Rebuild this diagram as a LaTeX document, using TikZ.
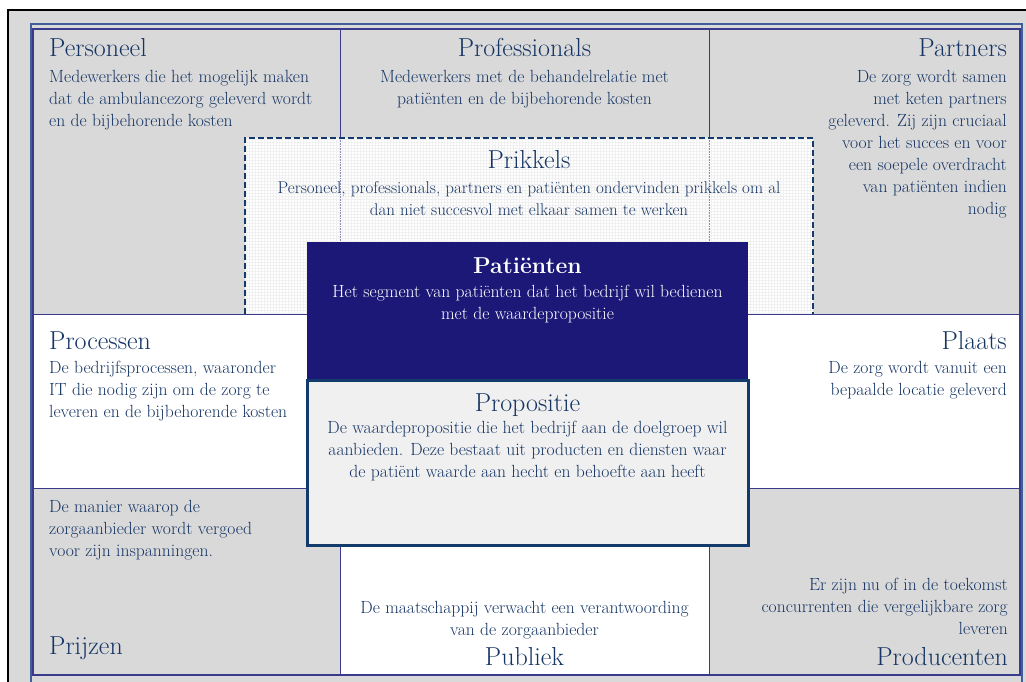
\documentclass[tikz,border=0pt]{standalone}
\usetikzlibrary{patterns}
\definecolor{cellgray}{HTML}{D9D9D9}
\definecolor{txtblue}{HTML}{163564}
\definecolor{navybox}{HTML}{1B1878}
\definecolor{cellline}{HTML}{3A3A8C}
\definecolor{frameblue}{HTML}{3F5E9A}
\definecolor{propline}{HTML}{123A6B}
\definecolor{propfill}{HTML}{F0F0F0}
\tikzset{
  title/.style={font=\fontsize{26}{30}\selectfont, text=txtblue, inner sep=0pt},
  body/.style={font=\fontsize{17.6}{22}\selectfont, text=txtblue, inner sep=0pt},
  grid line/.style={draw=cellline, line width=1pt},
}
\begin{document}
\begin{tikzpicture}[x=1pt,y=-1pt]
  \useasboundingbox (0,0) rectangle (1026,682);
  \clip (0,0) rectangle (1026,682);
  % frames
  \fill[cellgray] (8,10) rectangle (1040,700);
  \draw[line width=2pt] (8,10) rectangle (1040,700);
  \draw[frameblue, line width=2pt] (31,24) rectangle (1022,700);
  % cells
  \fill[cellgray] (33,29) rectangle (1020,314);
  \fill[white] (33,314) rectangle (1020,488);
  \fill[white] (340,488) rectangle (709,675);
  \draw[grid line] (340,29) -- (340,138) (709,29) -- (709,138)
    (340,488) -- (340,675) (709,488) -- (709,675);
  % prikkels
  \fill[white] (245,138) rectangle (813,314);
  \fill[pattern=grid, pattern color=gray!12] (245,138) rectangle (813,314);
  \draw[cellline!60, densely dotted, line width=0.6pt] (340,138) -- (340,314) (709,138) -- (709,314);
  \draw[propline, line width=2pt, dash pattern=on 6pt off 3pt] (245,314) -- (245,138) -- (813,138) -- (813,314);
  \draw[grid line] (33,314) -- (1020,314) (33,488) -- (1020,488);
  \draw[cellline, line width=1.2pt] (33,29) rectangle (1020,675);
  % centre blocks
  \fill[navybox] (307,242) rectangle (748,380);
  \filldraw[fill=propfill, draw=propline, line width=3pt] (307,380) rectangle (748,545);

  \node[title, anchor=base west] (personeel) at (49,57) {Personeel};
  \node[body, anchor=north west, align=left] (personeelTxt) at (49,70)
    {Medewerkers die het mogelijk maken\\dat de ambulancezorg geleverd wordt\\en de bijbehorende kosten};
  \node[title, anchor=base] (professionals) at (524.5,57) {Professionals};
  \node[body, anchor=north, align=center] (professionalsTxt) at (524.5,70)
    {Medewerkers met de behandelrelatie met\\patiënten en de bijbehorende kosten};
  \node[title, anchor=base east] (partners) at (1007,57) {Partners};
  \node[body, anchor=north east, align=right] (partnersTxt) at (1007,70)
    {De zorg wordt samen\\met keten partners\\geleverd. Zij zijn cruciaal\\voor het succes en voor\\een soepele overdracht\\van patiënten indien\\nodig};
  \node[title, anchor=base] (prikkels) at (529,169) {Prikkels};
  \node[body, anchor=north, align=center, font=\fontsize{17}{22}\selectfont] (prikkelsTxt) at (529,181)
    {Personeel, professionals, partners en patiënten ondervinden prikkels om al\\dan niet succesvol met elkaar samen te werken};
  \node[title, anchor=base, text=white, font=\fontsize{23}{27}\selectfont\bfseries] (patienten) at (527.5,273) {Patiënten};
  \node[body, anchor=north, align=center, text=white] (patientenTxt) at (527.5,285)
    {Het segment van patiënten dat het bedrijf wil bedienen\\met de waardepropositie};
  \node[title, anchor=base] (propositie) at (527.5,411) {Propositie};
  \node[body, anchor=north, align=center] (propositieTxt) at (527.5,421)
    {De waardepropositie die het bedrijf aan de doelgroep wil\\aanbieden. Deze bestaat uit producten en diensten waar\\de patiënt waarde aan hecht en behoefte aan heeft};
  \node[title, anchor=base west] (processen) at (49,349) {Processen};
  \node[body, anchor=north west, align=left] (processenTxt) at (49,361)
    {De bedrijfsprocessen, waaronder\\IT die nodig zijn om de zorg te\\leveren en de bijbehorende kosten};
  \node[title, anchor=base east] (plaats) at (1007,349) {Plaats};
  \node[body, anchor=north east, align=right] (plaatsTxt) at (1007,361)
    {De zorg wordt vanuit een\\bepaalde locatie geleverd};
  \node[body, anchor=north west, align=left] (prijzenTxt) at (49,500)
    {De manier waarop de\\zorgaanbieder wordt vergoed\\voor zijn inspanningen.};
  \node[title, anchor=base west] (prijzen) at (49,654) {Prijzen};
  \node[body, anchor=north, align=center] (publiekTxt) at (524.5,601)
    {De maatschappij verwacht een verantwoording\\van de zorgaanbieder};
  \node[title, anchor=base] (publiek) at (524.5,665) {Publiek};
  \node[body, anchor=north east, align=right] (producentenTxt) at (1008,578)
    {Er zijn nu of in de toekomst\\concurrenten die vergelijkbare zorg\\leveren};
  \node[title, anchor=base east] (producenten) at (1008,665) {Producenten};
\end{tikzpicture}
\end{document}
